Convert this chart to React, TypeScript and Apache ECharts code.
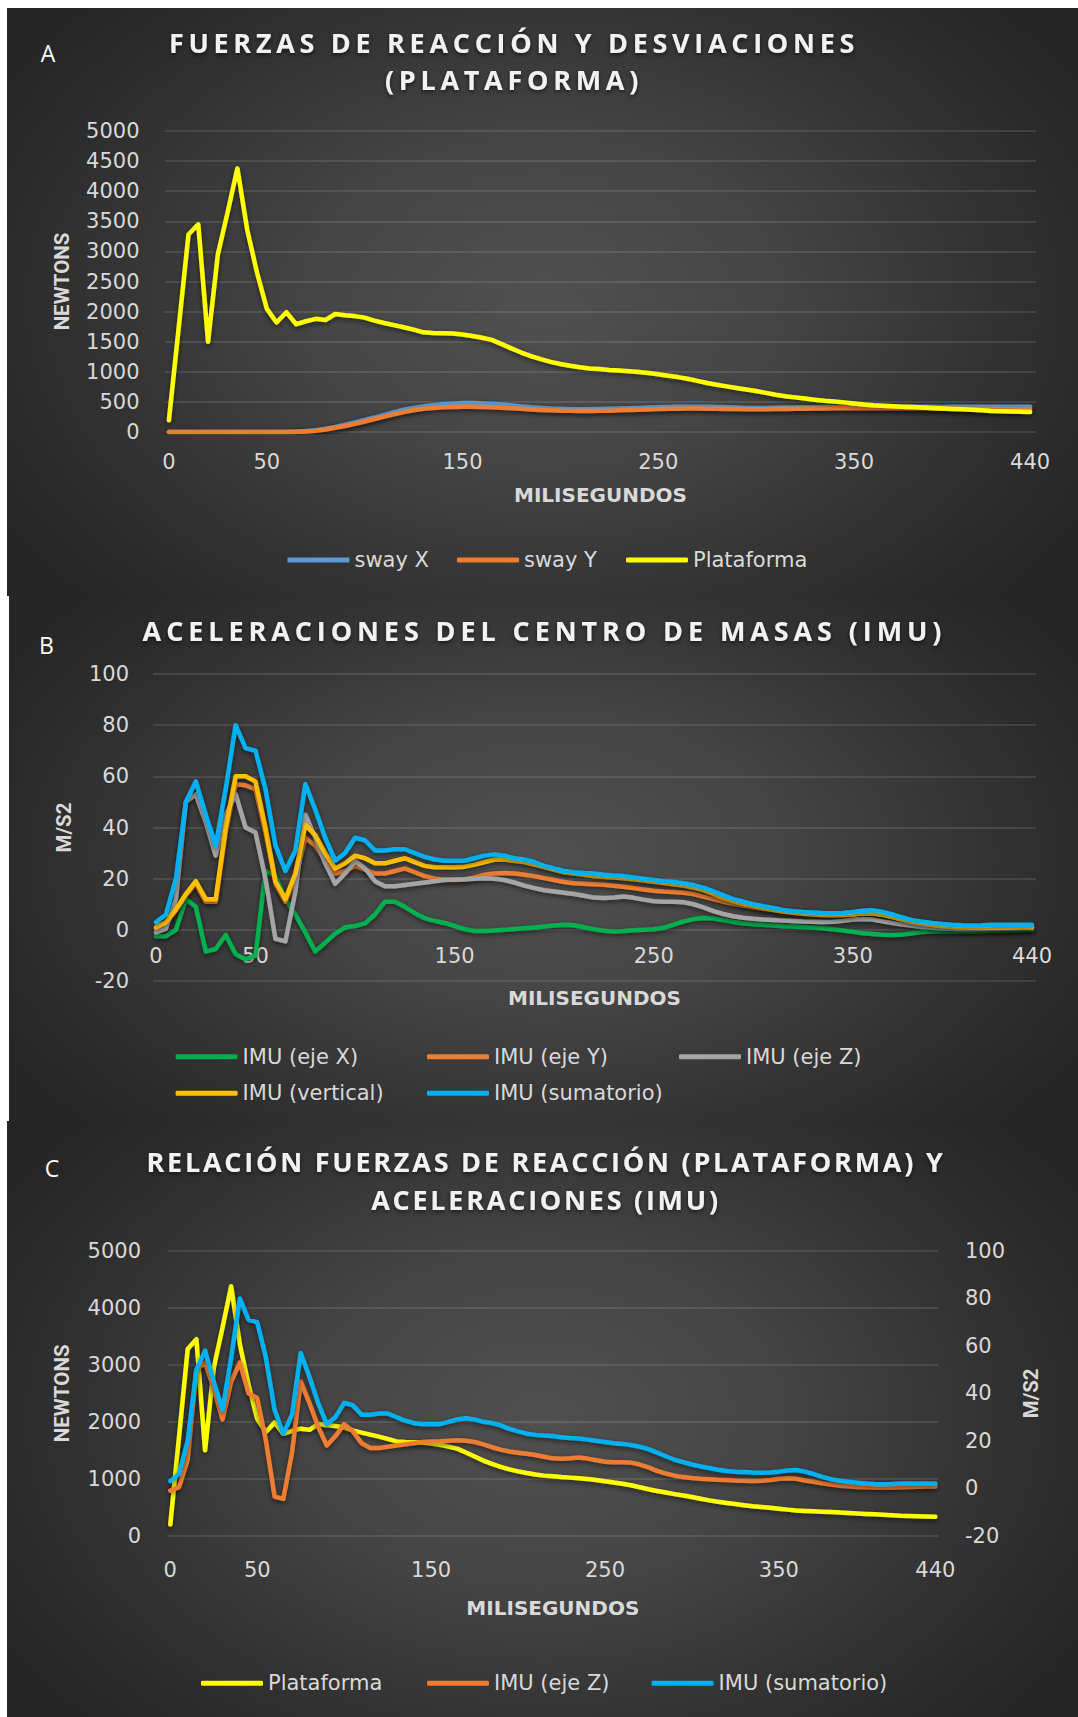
import React, { useEffect, useRef } from "react";
import * as echarts from "echarts";

// Samples are taken every 5 ms, from 0 to 440 ms.
const STEP_MS = 5;
const TIME_TICKS = [0, 50, 150, 250, 350, 440];

// Panel A: ground reaction force (N)
const plataforma = [
  195, 1730, 3280, 3450, 1500, 2950, 3650, 4380, 3360, 2650,
  2050, 1820, 1990, 1790, 1840, 1880, 1860, 1960, 1940, 1925,
  1900, 1850, 1810, 1775, 1740, 1700, 1655, 1645, 1640, 1635,
  1620, 1595, 1565, 1530, 1460, 1390, 1320, 1260, 1210, 1165,
  1130, 1100, 1075, 1055, 1045, 1030, 1020, 1008, 997, 980,
  958, 935, 912, 885, 850, 815, 785, 758, 730, 705,
  680, 650, 620, 595, 575, 555, 535, 518, 505, 492,
  475, 458, 443, 435, 428, 421, 416, 408, 400, 390,
  382, 376, 370, 360, 350, 344, 340, 336, 333,
];
const swayX = [
  0, 0, 0, 0, 0, 0, 0, 0, 0, 0,
  0, 0, 2, 6, 15, 30, 55, 85, 120, 160,
  200, 240, 285, 330, 370, 400, 425, 445, 460, 470,
  480, 480, 475, 465, 455, 440, 425, 410, 400, 390,
  385, 380, 378, 378, 380, 385, 390, 395, 400, 405,
  410, 415, 418, 420, 420, 418, 415, 410, 405, 400,
  400, 400, 402, 405, 408, 410, 412, 414, 415, 416,
  416, 416, 417, 418, 418, 419, 419, 418, 418, 417,
  418, 419, 420, 419, 418, 418, 419, 420, 420,
];
const swayY = [
  0, 0, 0, 0, 0, 0, 0, 0, 0, 0,
  0, 0, 1, 4, 10, 22, 42, 70, 100, 135,
  175, 215, 255, 295, 330, 360, 385, 400, 410, 415,
  418, 418, 415, 410, 402, 395, 385, 375, 365, 360,
  355, 352, 350, 350, 352, 355, 360, 365, 370, 375,
  380, 385, 388, 390, 390, 388, 385, 382, 380, 378,
  378, 378, 380, 382, 385, 388, 390, 392, 393, 394,
  395, 396, 396, 396, 395, 395, 394, 393, 392, 390,
  388, 386, 384, 382, 380, 378, 376, 374, 372,
];

// Panel B: centre-of-mass accelerations (m/s2)
const ejeX = [
  -2.5, -2.5, 0, 12, 9, -8.5, -7.5, -2, -9.5, -11.5,
  -10, 23, 21, 12, 6, -1, -8.5, -5, -1.5, 1,
  1.5, 2.5, 6, 11, 11, 9, 6.5, 4.5, 3.5, 2.7,
  1.5, 0.3, -0.5, -0.5, -0.3, 0, 0.3, 0.6, 0.9, 1.3,
  1.7, 2, 1.8, 1, 0.2, -0.4, -0.7, -0.5, -0.2, 0,
  0.2, 0.8, 2, 3.3, 4.2, 4.6, 4.4, 3.8, 3.1, 2.6,
  2.2, 2, 1.7, 1.4, 1.3, 1.1, 0.9, 0.6, 0.2, -0.3,
  -0.8, -1.3, -1.6, -1.9, -2, -1.8, -1.3, -0.8, -0.6, -0.6,
  -0.6, -0.6, -0.6, -0.5, -0.4, -0.3, -0.2, -0.1, 0,
];
const ejeY = [
  0.5, 2.5, 7.5, 13.5, 18, 11, 11, 38, 57, 56.5,
  55, 38, 18, 11, 20, 36, 33, 27, 22, 23,
  25, 23.5, 22, 22, 23, 24, 22.5, 21, 20, 19.7,
  19.5, 19.7, 20.5, 21.5, 22, 22.2, 22, 21.5, 21, 20.2,
  19.5, 18.7, 18.2, 18, 17.8, 17.6, 17.2, 16.8, 16.3, 15.8,
  15.3, 15, 14.8, 14.5, 14, 13, 12, 11, 10.2, 9.5,
  8.8, 8.2, 7.7, 7.3, 7, 6.7, 6.5, 6.3, 6, 6,
  6.2, 6.5, 6.3, 5.8, 5, 4, 3, 2.3, 1.8, 1.3,
  1, 0.8, 0.8, 0.8, 0.8, 0.8, 1, 1, 1,
];
const ejeZ = [
  -1, 0.5, 12, 50, 53, 42, 29, 45, 53, 40,
  38, 20, -3.5, -4.5, 15, 45, 36, 26, 18, 22,
  27, 24, 19, 17, 17, 17.5, 18, 18.5, 19, 19.5,
  19.7, 19.8, 20, 20.2, 20, 19.5, 18.5, 17.3, 16.3, 15.5,
  15, 14.5, 14, 13.3, 12.6, 12.4, 12.6, 13, 12.5, 11.8,
  11.2, 11, 11, 10.8, 10, 8.8, 7.3, 6.2, 5.3, 4.7,
  4.3, 4, 3.8, 3.6, 3.5, 3.3, 3.2, 3.1, 3.2, 3.5,
  4, 4.2, 4, 3.3, 2.7, 2.1, 1.6, 1.1, 0.8, 0.5,
  0.4, 0.3, 0.3, 0.3, 0.4, 0.5, 0.6, 0.7, 0.7,
];
const vertical = [
  1, 3, 8, 14, 19, 12, 12, 40, 60, 60,
  58, 40, 19, 12, 22, 41, 37, 30, 24, 26,
  29, 28, 26, 26, 27, 28, 26.5, 25, 24.5, 24.5,
  24.5, 24.7, 25.5, 26.5, 27.5, 27.5, 27, 26.5, 25.5, 24.5,
  23.5, 22.5, 22, 21.5, 21, 20.7, 20.5, 20.2, 19.8, 19.3,
  18.8, 18.3, 17.8, 17.3, 16.5, 15.5, 14, 12.5, 11.2, 10.2,
  9.3, 8.5, 7.8, 7.2, 6.7, 6.3, 6, 5.8, 5.7, 5.8,
  6, 6.5, 6.5, 6, 5, 4, 3.2, 2.5, 2, 1.5,
  1.2, 1, 0.8, 0.8, 0.8, 0.8, 0.8, 1, 1,
];
const sumatorio = [
  3, 6, 20, 50, 58, 45, 33, 55, 80, 71,
  70, 55, 33, 23, 31, 57, 47, 36, 27, 30,
  36, 35, 31, 31, 31.5, 31.5, 30, 28.5, 27.5, 27,
  27, 27, 28, 29, 29.5, 29, 28, 27.5, 26.5, 25,
  24, 23, 22.5, 22.2, 22, 21.5, 21.2, 21, 20.5, 20,
  19.5, 19, 18.7, 18.2, 17.5, 16.5, 15, 13.5, 12, 11,
  10, 9.2, 8.5, 7.8, 7.3, 7, 6.8, 6.6, 6.5, 6.6,
  7, 7.5, 7.7, 7, 6, 4.8, 3.8, 3.2, 2.7, 2.3,
  2, 1.8, 1.7, 1.8, 2, 2, 2, 2, 2,
];

const TEXT = "#d9d9d9";
const GRID = "rgba(255,255,255,0.14)";
const TICK_FONT = "DejaVu Sans";
const PANEL_BG =
  "radial-gradient(ellipse 58% 72% at 50% 50%, #505050 0%, #464646 35%, #2c2c2c 85%, #262626 100%)";

const COLORS = {
  swayX: "#5b9bd5",
  swayY: "#ed7d31",
  plataforma: "#ffff00",
  ejeX: "#00b050",
  ejeY: "#ed7d31",
  ejeZ: "#a5a5a5",
  ejeZAlt: "#ed7d31",
  vertical: "#ffc000",
  sumatorio: "#00b0f0",
};

// Title font with extra tracking (the SVG text picks the letter-spacing up from its style).
const tracked = (family: string, px: number) => `'${family}';letter-spacing:${px}px`;

const plainNumber = (v: number) => String(v);

function lineSeries(name: string, values: number[], color: string, yAxisIndex = 0) {
  return {
    type: "line",
    name,
    yAxisIndex,
    data: values.map((v, i) => [i * STEP_MS, v]),
    showSymbol: false,
    symbol: "none",
    color,
    lineStyle: {
      width: 4.5,
      color,
      cap: "round",
      join: "round",
      shadowColor: "rgba(0,0,0,0.55)",
      shadowBlur: 5,
      shadowOffsetY: 2,
    },
    emphasis: { disabled: true },
  };
}

// The time axis sits on the zero of the value axis: `offset` lifts it from the grid's bottom edge.
function timeAxis(min: number, max: number, labelMargin: number, nameGap: number, offset = 0) {
  return {
    type: "value",
    min,
    max,
    offset,
    axisLine: { show: false, onZero: false },
    axisTick: { show: false },
    splitLine: { show: false },
    axisLabel: {
      customValues: TIME_TICKS,
      color: TEXT,
      fontFamily: TICK_FONT,
      fontSize: 21,
      margin: labelMargin,
    },
    name: "MILISEGUNDOS",
    nameLocation: "middle",
    nameGap,
    nameTextStyle: { color: TEXT, fontFamily: TICK_FONT, fontWeight: "bold", fontSize: 20 },
  };
}

function valueAxis(
  min: number,
  max: number,
  interval: number,
  name: string,
  labelMargin: number,
  nameGap: number,
  position: "left" | "right" = "left",
  grid = true
) {
  return {
    type: "value",
    position,
    min,
    max,
    interval,
    axisLine: { show: false, onZero: false },
    axisTick: { show: false },
    splitLine: { show: grid, lineStyle: { color: GRID, width: 1.5 } },
    axisLabel: {
      color: TEXT,
      fontFamily: TICK_FONT,
      fontSize: 21,
      margin: labelMargin,
      formatter: plainNumber,
    },
    name,
    nameLocation: "middle",
    nameGap,
    nameTextStyle: { color: TEXT, fontFamily: "Roboto", fontWeight: "bold", fontSize: 20.5 },
  };
}

function legendItem(name: string, left: number, top: number) {
  return {
    data: [name],
    left,
    top,
    padding: 0,
    itemGap: 0,
    itemWidth: 62,
    itemHeight: 5,
    icon: "roundRect",
    selectedMode: false,
    textStyle: { color: TEXT, fontFamily: TICK_FONT, fontSize: 21, lineHeight: 24 },
  };
}

function titleText(text: string, x: number, y: number, spacing: number) {
  return {
    type: "text",
    x,
    y,
    silent: true,
    style: {
      text,
      fill: "#f2f2f2",
      fontSize: 27,
      fontWeight: "bold",
      fontFamily: tracked("Open Sans", spacing),
      align: "center",
      verticalAlign: "middle",
      textShadowColor: "rgba(0,0,0,0.6)",
      textShadowBlur: 4,
      textShadowOffsetY: 2,
    },
  };
}

function panelLetter(text: string, x: number, y: number) {
  return {
    type: "text",
    x,
    y,
    silent: true,
    style: {
      text,
      fill: "#ffffff",
      fontSize: 23,
      fontFamily: "Open Sans",
      align: "center",
      verticalAlign: "middle",
    },
  };
}

// Panel B's plot: 307 px tall for -20..100, so zero lies 20/120 of it above the bottom edge.
const B_GRID = { left: 144, right: 42, top: 78, bottom: 140 };
const B_PLOT_HEIGHT = 525 - B_GRID.top - B_GRID.bottom;
const B_ZERO_LIFT = (B_PLOT_HEIGHT * 20) / 120;

const optionA = {
  animation: false,
  grid: { left: 158, right: 42, top: 123, bottom: 164 },
  xAxis: timeAxis(-2, 443, 19.5, 53),
  yAxis: valueAxis(0, 5000, 500, "NEWTONS", 25.5, 93),
  legend: [
    legendItem("sway X", 280.5, 540),
    legendItem("sway Y", 450, 540),
    legendItem("Plataforma", 619, 540),
  ],
  series: [
    lineSeries("sway X", swayX, COLORS.swayX),
    lineSeries("sway Y", swayY, COLORS.swayY),
    lineSeries("Plataforma", plataforma, COLORS.plataforma),
  ],
  graphic: {
    elements: [
      panelLetter("A", 41, 45),
      titleText("FUERZAS DE REACCIÓN Y DESVIACIONES", 507, 34, 4.7),
      titleText("(PLATAFORMA)", 507, 71, 4.7),
    ],
  },
};

const optionB = {
  animation: false,
  grid: B_GRID,
  xAxis: timeAxis(-1.5, 442, 16, 58, -B_ZERO_LIFT),
  yAxis: valueAxis(-20, 100, 20, "M/S2", 24, 79),
  legend: [
    legendItem("IMU (eje X)", 166.6, 448.7),
    legendItem("IMU (eje Y)", 418, 448.7),
    legendItem("IMU (eje Z)", 670, 448.7),
    legendItem("IMU (vertical)", 166.6, 485.3),
    legendItem("IMU (sumatorio)", 418, 485.3),
  ],
  series: [
    lineSeries("IMU (eje X)", ejeX, COLORS.ejeX),
    lineSeries("IMU (eje Y)", ejeY, COLORS.ejeY),
    lineSeries("IMU (eje Z)", ejeZ, COLORS.ejeZ),
    lineSeries("IMU (vertical)", vertical, COLORS.vertical),
    lineSeries("IMU (sumatorio)", sumatorio, COLORS.sumatorio),
  ],
  graphic: {
    elements: [
      panelLetter("B", 37.5, 49),
      titleText("ACELERACIONES DEL CENTRO DE MASAS (IMU)", 535.5, 34, 4.9),
    ],
  },
};

const optionC = {
  animation: false,
  grid: { left: 160.7, right: 140, top: 130, bottom: 181.3 },
  xAxis: timeAxis(-1.5, 441.5, 23.8, 62.6),
  yAxis: [
    valueAxis(0, 5000, 1000, "NEWTONS", 26.7, 95.7, "left", true),
    valueAxis(-20, 100, 20, "M/S2", 27, 82, "right", false),
  ],
  legend: [
    legendItem("Plataforma", 194, 550.3),
    legendItem("IMU (eje Z)", 420, 550.3),
    legendItem("IMU (sumatorio)", 644.6, 550.3),
  ],
  series: [
    lineSeries("Plataforma", plataforma, COLORS.plataforma, 0),
    lineSeries("IMU (eje Z)", ejeZ, COLORS.ejeZAlt, 1),
    lineSeries("IMU (sumatorio)", sumatorio, COLORS.sumatorio, 1),
  ],
  graphic: {
    elements: [
      panelLetter("C", 45, 47),
      titleText("RELACIÓN FUERZAS DE REACCIÓN (PLATAFORMA) Y", 539, 40.7, 2.75),
      titleText("ACELERACIONES (IMU)", 539, 78, 2.75),
    ],
  },
};

type PanelProps = { left: number; top: number; width: number; height: number; option: any };

function ChartPanel({ left, top, width, height, option }: PanelProps) {
  const ref = useRef<HTMLDivElement>(null);
  useEffect(() => {
    if (!ref.current) return;
    const chart = echarts.init(ref.current, null, { renderer: "svg" });
    chart.setOption(option);
    return () => chart.dispose();
  }, [option]);
  return (
    <div
      ref={ref}
      style={{ position: "absolute", left, top, width, height, background: PANEL_BG }}
    />
  );
}

export default function App() {
  return (
    <div
      style={{
        position: "absolute",
        left: 0,
        top: 0,
        width: 1078,
        height: 1717,
        background: "#ffffff",
        overflow: "hidden",
      }}
    >
      <ChartPanel left={7} top={8} width={1071} height={588} option={optionA} />
      <ChartPanel left={9} top={596} width={1069} height={525} option={optionB} />
      <ChartPanel left={7} top={1121} width={1071} height={596} option={optionC} />
    </div>
  );
}
